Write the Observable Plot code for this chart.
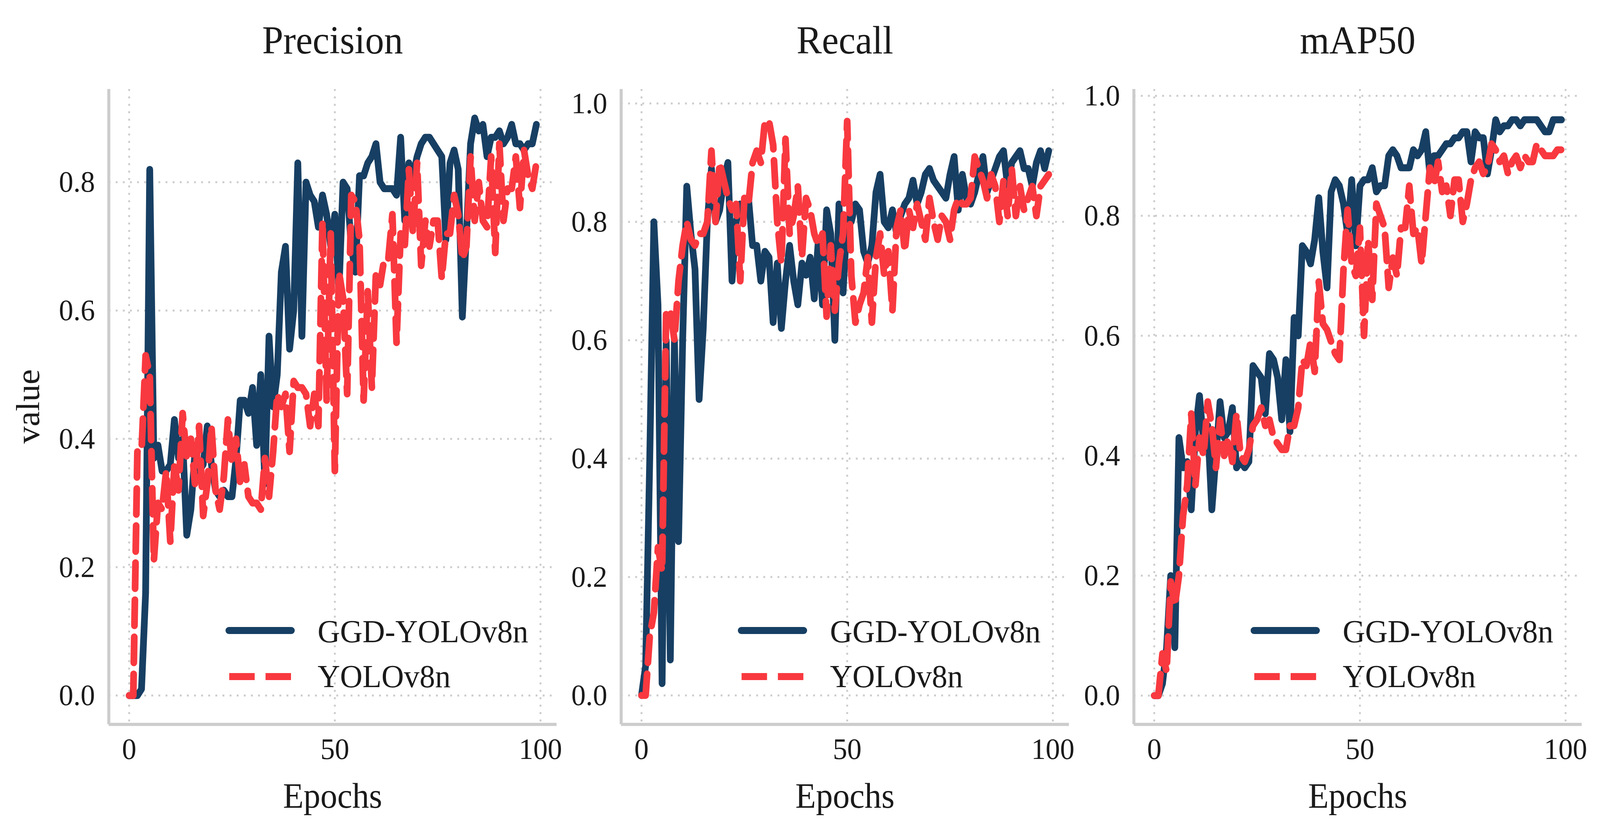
<!DOCTYPE html>
<html>
<head>
<meta charset="utf-8">
<script src="https://cdn.jsdelivr.net/npm/d3@7"></script>
<script src="https://cdn.jsdelivr.net/npm/@observablehq/plot@0.6"></script>
<style>
  html, body { margin: 0; padding: 0; background: #fff; overflow: hidden; }
  body { font-family: "Liberation Serif", "Times New Roman", serif; color: #1a1a1a; }
  #wrap { position: relative; overflow: hidden; }
  #page { position: absolute; left: 0; top: 0; width: 4272px; height: 2126px; transform-origin: 0 0; }
  .abs { position: absolute; white-space: nowrap; }
</style>
</head>
<body>
<div id="wrap"><div id="page"></div></div>
<script>
// epochs 0..99
const epochs = [0,1,2,3,4,5,6,7,8,9,10,11,12,13,14,15,16,17,18,19,20,21,22,23,24,25,26,27,28,29,
  30,31,32,33,34,35,36,37,38,39,40,41,42,43,44,45,46,47,48,49,50,51,52,53,54,55,56,57,58,59,
  60,61,62,63,64,65,66,67,68,69,70,71,72,73,74,75,76,77,78,79,80,81,82,83,84,85,86,87,88,89,
  90,91,92,93,94,95,96,97,98,99];

const precisionGGD = [0,0,0,0.01,0.16,0.82,0.37,0.39,0.35,0.35,
  0.36,0.43,0.37,0.40,0.25,0.29,0.38,0.35,0.36,0.42,
  0.36,0.32,0.31,0.32,0.31,0.31,0.37,0.46,0.46,0.44,
  0.48,0.39,0.50,0.33,0.56,0.45,0.50,0.66,0.70,0.54,
  0.60,0.83,0.56,0.80,0.78,0.77,0.73,0.78,0.75,0.70,
  0.75,0.63,0.80,0.79,0.70,0.66,0.81,0.81,0.83,0.84,
  0.86,0.80,0.79,0.79,0.79,0.78,0.87,0.74,0.83,0.81,
  0.84,0.86,0.87,0.87,0.86,0.85,0.84,0.71,0.83,0.85,
  0.82,0.59,0.72,0.86,0.90,0.88,0.89,0.84,0.87,0.87,
  0.88,0.86,0.87,0.89,0.86,0.86,0.85,0.86,0.86,0.89];
const precisionYOLO = [0,0,0.38,0.38,0.53,0.50,0.21,0.30,0.29,0.35,
  0.24,0.36,0.32,0.44,0.37,0.40,0.33,0.42,0.28,0.33,
  0.42,0.32,0.29,0.34,0.43,0.36,0.40,0.33,0.36,0.31,
  0.30,0.30,0.29,0.37,0.31,0.38,0.47,0.45,0.47,0.38,
  0.49,0.48,0.48,0.47,0.42,0.47,0.42,0.74,0.46,0.72,
  0.35,0.66,0.62,0.47,0.78,0.77,0.71,0.46,0.63,0.48,
  0.66,0.64,0.68,0.68,0.75,0.55,0.72,0.70,0.82,0.72,
  0.83,0.67,0.74,0.70,0.74,0.74,0.65,0.72,0.72,0.78,
  0.75,0.68,0.70,0.84,0.74,0.80,0.74,0.73,0.84,0.69,
  0.86,0.74,0.79,0.79,0.84,0.76,0.85,0.81,0.79,0.83];

const recallGGD = [0,0.05,0.40,0.80,0.66,0.02,0.60,0.06,0.60,0.26,
  0.60,0.86,0.78,0.72,0.50,0.62,0.80,0.89,0.80,0.82,
  0.87,0.90,0.70,0.80,0.83,0.82,0.84,0.76,0.76,0.70,
  0.75,0.74,0.63,0.73,0.62,0.70,0.76,0.70,0.66,0.73,
  0.71,0.74,0.67,0.77,0.66,0.82,0.78,0.60,0.83,0.68,
  0.81,0.80,0.83,0.82,0.75,0.73,0.76,0.85,0.88,0.80,
  0.79,0.82,0.78,0.81,0.83,0.84,0.87,0.83,0.85,0.88,
  0.89,0.87,0.86,0.85,0.84,0.88,0.91,0.82,0.88,0.84,
  0.83,0.85,0.88,0.91,0.85,0.87,0.89,0.91,0.92,0.86,
  0.90,0.91,0.92,0.89,0.89,0.86,0.90,0.92,0.89,0.92];
const recallYOLO = [0,0,0.10,0.14,0.25,0.21,0.65,0.65,0.60,0.70,
  0.76,0.80,0.77,0.76,0.78,0.78,0.80,0.92,0.80,0.90,
  0.87,0.84,0.82,0.83,0.70,0.84,0.83,0.90,0.92,0.90,
  0.97,0.97,0.93,0.80,0.73,0.94,0.78,0.81,0.86,0.74,
  0.84,0.82,0.78,0.76,0.78,0.64,0.76,0.65,0.73,0.78,
  0.97,0.71,0.63,0.66,0.68,0.74,0.63,0.74,0.78,0.71,
  0.75,0.65,0.79,0.82,0.75,0.82,0.79,0.83,0.80,0.77,
  0.84,0.80,0.77,0.81,0.80,0.77,0.82,0.84,0.83,0.83,
  0.84,0.91,0.89,0.87,0.84,0.88,0.86,0.80,0.87,0.81,
  0.89,0.81,0.86,0.82,0.84,0.86,0.81,0.86,0.87,0.88];

const map50GGD = [0,0,0.02,0.08,0.20,0.08,0.43,0.38,0.39,0.31,
  0.44,0.50,0.42,0.45,0.31,0.40,0.49,0.43,0.44,0.48,
  0.38,0.39,0.38,0.39,0.55,0.54,0.53,0.47,0.57,0.56,
  0.53,0.46,0.56,0.44,0.63,0.60,0.75,0.74,0.72,0.76,
  0.83,0.74,0.68,0.84,0.86,0.85,0.82,0.77,0.86,0.75,
  0.85,0.86,0.86,0.88,0.84,0.85,0.85,0.90,0.91,0.90,
  0.88,0.88,0.88,0.91,0.90,0.91,0.94,0.87,0.90,0.90,
  0.91,0.92,0.92,0.93,0.93,0.94,0.94,0.89,0.94,0.93,
  0.93,0.87,0.91,0.96,0.94,0.95,0.95,0.96,0.96,0.95,
  0.96,0.96,0.96,0.96,0.95,0.94,0.94,0.96,0.96,0.96];
const map50YOLO = [0,0,0.07,0.04,0.19,0.15,0.20,0.30,0.35,0.47,
  0.35,0.43,0.40,0.49,0.45,0.38,0.46,0.40,0.43,0.39,
  0.47,0.40,0.39,0.41,0.45,0.46,0.48,0.45,0.46,0.43,
  0.42,0.41,0.41,0.45,0.45,0.48,0.56,0.55,0.59,0.54,
  0.69,0.62,0.61,0.59,0.57,0.56,0.71,0.81,0.72,0.70,
  0.78,0.60,0.76,0.66,0.82,0.80,0.78,0.68,0.73,0.70,
  0.78,0.78,0.85,0.77,0.78,0.72,0.80,0.88,0.85,0.89,
  0.84,0.85,0.80,0.86,0.86,0.79,0.82,0.86,0.88,0.89,
  0.87,0.88,0.92,0.91,0.89,0.90,0.87,0.89,0.90,0.88,
  0.90,0.89,0.89,0.92,0.91,0.90,0.90,0.90,0.91,0.91];

const titles = ["Precision", "Recall", "mAP50"];
const seriesNames = ["GGD-YOLOv8n", "YOLOv8n"];
const xTicks = [0, 50, 100];
const xDomain = [-4.95, 103.95];
const yTicksP = [0, 0.2, 0.4, 0.6, 0.8];
const yTicksRM = [0, 0.2, 0.4, 0.6, 0.8, 1.0];
const yDomainP = [-0.045, 0.945];
const yDomainR = [-0.049, 1.024];
const yDomainM = [-0.048, 1.011];

const navy = "#173f63";
const red = "#f8393f";
const spine = "#cccccc";
const grid = "#cdcdcd";

const panels = [
  {title: titles[0], ggd: precisionGGD, yolo: precisionYOLO, yDomain: yDomainP, yTicks: yTicksP, left: 0, width: 1500, ml: 290, mr: 14},
  {title: titles[1], ggd: recallGGD, yolo: recallYOLO, yDomain: yDomainR, yTicks: yTicksRM, left: 1500, width: 1400, ml: 158, mr: 46},
  {title: titles[2], ggd: map50GGD, yolo: map50YOLO, yDomain: yDomainM, yTicks: yTicksRM, left: 2900, width: 1372, ml: 127, mr: 49}
];

// fit the 4272x2126 layout to the viewport that is actually there
const W = 4272, H = 2126;
const vw = document.documentElement.clientWidth || window.innerWidth || W;
const vh = document.documentElement.clientHeight || window.innerHeight || H;
const sx = Math.min(1, vw / W);
const sy = Math.min(1, vh / H);
d3.select("#wrap").style("width", (W * sx) + "px").style("height", (H * sy) + "px");
d3.select("#page").style("transform", `scale(${sx}, ${sy})`);

const page = d3.select("#page");
const svgTop = 150;
const svgHeight = 1976;
const mt = 78, mb = 271;

panels.forEach((p) => {
  const rows = epochs.map((e, i) => ({epoch: e, ggd: p.ggd[i], yolo: p.yolo[i]}));
  const chart = Plot.plot({
    width: p.width,
    height: svgHeight,
    marginTop: mt,
    marginBottom: mb,
    marginLeft: p.ml,
    marginRight: p.mr,
    style: {fontFamily: "Liberation Serif", fontSize: "77px", color: "#1a1a1a", background: "transparent", overflow: "visible"},
    x: {domain: xDomain},
    y: {domain: p.yDomain},
    marks: [
      Plot.ruleY(p.yTicks, {stroke: grid, strokeWidth: 5, strokeDasharray: "5,14"}),
      Plot.ruleX(xTicks, {stroke: grid, strokeWidth: 5, strokeDasharray: "5,14"}),
      Plot.axisX({ticks: xTicks, tickSize: 0, tickPadding: 34, label: null, fontSize: 77}),
      Plot.axisY({ticks: p.yTicks, tickSize: 0, tickPadding: 37, label: null, fontSize: 77, tickFormat: d3.format(".1f")}),
      Plot.line(rows, {x: "epoch", y: "ggd", stroke: navy, strokeWidth: 18, strokeLinecap: "round", strokeLinejoin: "round"}),
      Plot.line(rows, {x: "epoch", y: "yolo", stroke: red, strokeWidth: 18, strokeDasharray: "66,29", strokeLinejoin: "round"}),
      Plot.ruleX([xDomain[0]], {stroke: spine, strokeWidth: 8}),
      Plot.ruleY([p.yDomain[0]], {stroke: spine, strokeWidth: 8})
    ]
  });
  chart.style.position = "absolute";
  chart.style.left = p.left + "px";
  chart.style.top = svgTop + "px";
  page.append(() => chart);

  const axLeft = p.left + p.ml;
  const axRight = p.left + p.width - p.mr;
  const cx = (axLeft + axRight) / 2;

  // title above the axes
  page.append("div").attr("class", "abs")
    .style("left", (cx - 400) + "px").style("width", "800px").style("text-align", "center")
    .style("top", "53px")
    .style("font-size", "101px").style("line-height", "101px")
    .text(p.title);

  // x label
  page.append("div").attr("class", "abs")
    .style("left", (cx - 300) + "px").style("width", "600px").style("text-align", "center")
    .style("top", "1994px")
    .style("font-size", "90px").style("line-height", "90px")
    .text("Epochs");

  // legend, lower right inside axes
  const rowsY = [1615, 1733];
  const textTops = [1576, 1691];
  seriesNames.forEach((name, k) => {
    const sw = page.append("svg").attr("class", "abs")
      .attr("width", 200).attr("height", 40)
      .style("left", (axLeft + 312) + "px").style("top", (rowsY[k] - 20) + "px");
    const ln = sw.append("line").attr("y1", 20).attr("y2", 20)
      .attr("stroke-width", 18);
    if (k === 0) {
      ln.attr("x1", 9).attr("x2", 176).attr("stroke", navy).attr("stroke-linecap", "round");
    } else {
      ln.attr("x1", 10).attr("x2", 176).attr("stroke", red).attr("stroke-dasharray", "68,29");
    }
    page.append("div").attr("class", "abs")
      .style("left", (axLeft + 558) + "px").style("top", textTops[k] + "px")
      .style("font-size", "83px").style("line-height", "83px")
      .text(name);
  });
});

// shared y label
page.append("div").attr("class", "abs")
  .style("left", "75px").style("top", "1041px")
  .style("transform", "translate(-50%,-50%) rotate(-90deg)")
  .style("font-size", "88px").style("line-height", "88px")
  .text("value");
</script>
</body>
</html>
